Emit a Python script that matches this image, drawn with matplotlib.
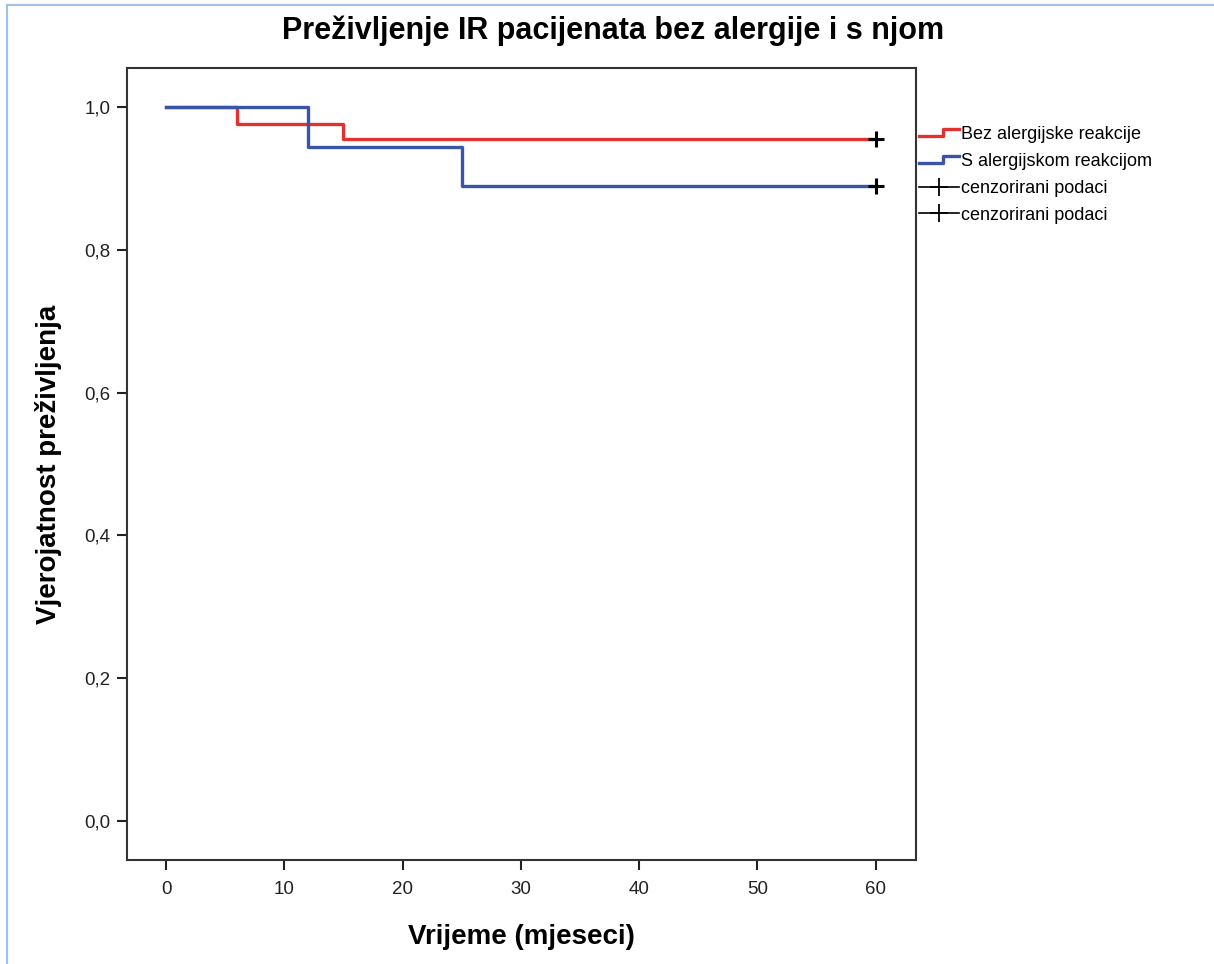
import matplotlib
matplotlib.use("Agg")
import matplotlib.pyplot as plt
from matplotlib.lines import Line2D
from matplotlib.legend_handler import HandlerBase

plt.rcParams["font.family"] = ["Liberation Sans", "DejaVu Sans"]

# Kaplan-Meier steps
red_t = [0, 6, 15, 60]
red_s = [1.0, 0.977, 0.955, 0.955]
blue_t = [0, 12, 25, 60]
blue_s = [1.0, 0.944, 0.889, 0.889]
cens_t = [60, 60]
cens_s = [0.955, 0.889]

x_ticks = [0, 10, 20, 30, 40, 50, 60]
y_ticks = [0.0, 0.2, 0.4, 0.6, 0.8, 1.0]
y_labels = ["0,0", "0,2", "0,4", "0,6", "0,8", "1,0"]

RED = "#E2312F"
BLUE = "#3A55A8"


class StepHandler(HandlerBase):
    def create_artists(self, legend, orig, xd, yd, w, h, fontsize, trans):
        xs = [xd, xd + w * 0.6, xd + w * 0.6, xd + w]
        ys = [yd + h * 0.2, yd + h * 0.2, yd + h * 0.8, yd + h * 0.8]
        ln = Line2D(xs, ys, color=orig.get_color(), lw=orig.get_linewidth(),
                    transform=trans)
        return [ln]


fig = plt.figure(figsize=(12.14, 9.64), dpi=100)
ax = fig.add_axes([127 / 1214, 1 - 860 / 964, (916 - 127) / 1214, (860 - 68) / 964])

ax.step(red_t, red_s, where="post", color=RED, lw=2.4)
ax.step(blue_t, blue_s, where="post", color=BLUE, lw=2.4)
ax.plot(cens_t, cens_s, ls="none", marker="+", ms=11, mew=2.2, color="black")

ax.set_xlim(-3.3, 63.4)
ax.set_ylim(-0.055, 1.055)
ax.set_xticks(x_ticks)
ax.set_yticks(y_ticks)
ax.set_yticklabels(y_labels)
ax.tick_params(direction="out", length=7, width=1.5, labelsize=13.5,
               colors="#222222", pad=5)
ax.tick_params(axis="x", pad=8)
for sp in ax.spines.values():
    sp.set_linewidth(1.5)
    sp.set_color("#333333")

ax.set_xlabel("Vrijeme (mjeseci)", fontsize=20, fontweight="bold", labelpad=19)
ax.set_ylabel("Vjerojatnost preživljenja", fontsize=20, fontweight="bold", labelpad=16)
fig.text(0.505, 1 - 31 / 964, "Preživljenje IR pacijenata bez alergije i s njom",
         ha="center", va="center", fontsize=22, fontweight="bold")

handles = [
    Line2D([], [], color=RED, lw=2.4),
    Line2D([], [], color=BLUE, lw=2.4),
    Line2D([], [], color="black", lw=1.2, marker="+", ms=13, mew=1.3),
    Line2D([], [], color="black", lw=1.2, marker="+", ms=13, mew=1.3),
]
labels = ["Bez alergijske reakcije", "S alergijskom reakcijom",
          "cenzorirani podaci", "cenzorirani podaci"]
fig.legend(handles, labels, loc="upper left",
           bbox_to_anchor=(919 / 1214, 1 - 126 / 964), frameon=False,
           fontsize=13, handlelength=2.2, handletextpad=0.1,
           labelspacing=0.55, borderpad=0, borderaxespad=0,
           handler_map={handles[0]: StepHandler(), handles[1]: StepHandler()})

# light blue frame around the image
fig.add_artist(Line2D([7 / 1214, 7 / 1214], [0, 1 - 5 / 964], color="#9DC3E6",
                      lw=1.5, transform=fig.transFigure))
fig.add_artist(Line2D([7 / 1214, 1], [1 - 5 / 964, 1 - 5 / 964], color="#9DC3E6",
                      lw=1.5, transform=fig.transFigure))

fig.savefig("out.png", dpi=100)
